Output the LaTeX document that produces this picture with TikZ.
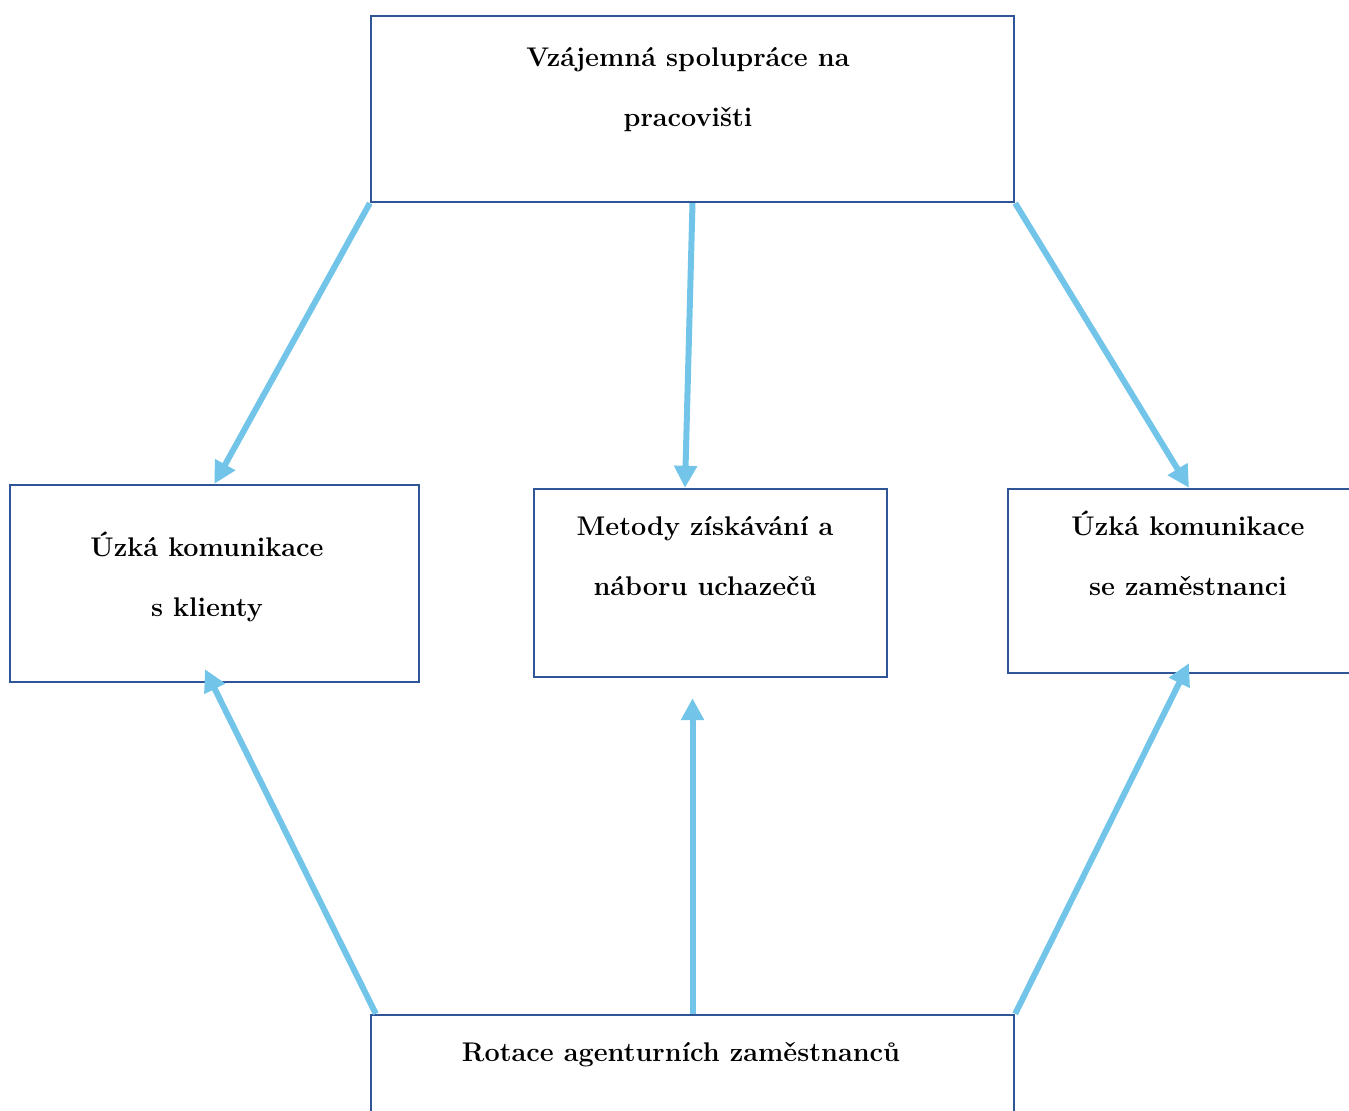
\documentclass[tikz,border=0pt]{standalone}
\usetikzlibrary{arrows.meta, positioning}
\definecolor{boxblue}{RGB}{47,85,151}
\definecolor{arrowblue}{RGB}{114,196,233}

\begin{document}
\begin{tikzpicture}[x=0.5pt, y=0.5pt,
    box/.style={rectangle, draw=boxblue, line width=1.2pt, inner sep=0pt},
    lbl/.style={align=center, font=\fontsize{13.5}{30}\selectfont\bfseries},
    arrow/.style={draw=arrowblue, line width=3pt, -{Triangle[length=11pt, width=11pt]}}]
    \useasboundingbox (0,0) rectangle (1349,1111);
    \clip (0,0) rectangle (1349,1111);
    % boxes
    \node [box, minimum width=321.5pt, minimum height=93pt] (top) at (692.5,1002) {};
    \node [box, minimum width=204.5pt, minimum height=98.5pt] (left) at (214.5,527.5) {};
    \node [box, minimum width=176.5pt, minimum height=94pt] (mid) at (710.5,528) {};
    \node [box, minimum width=181pt, minimum height=92pt] (right) at (1189,530) {};
    \node [box, minimum width=321.5pt, minimum height=92.5pt] (bot) at (692.5,3.5) {};
    % texts
    \node [lbl] (toplbl) at (688,1021) {Vzájemná spolupráce na\\pracovišti};
    \node [lbl] (leftlbl) at (207,534) {Úzká komunikace\\s klienty};
    \node [lbl] (midlbl) at (705,555) {Metody získávání a\\náboru uchazečů};
    \node [lbl] (rightlbl) at (1188,558) {Úzká komunikace\\se zaměstnanci};
    \node [lbl] (botlbl) at (681,56) {Rotace agenturních zaměstnanců};
    % arrows
    \draw [arrow] (top.south west) -- (left.north);
    \draw [arrow] (top.south) -- ([xshift=-12.75pt]mid.north);
    \draw [arrow] (top.south east) -- (right.north);
    \draw [arrow] ([xshift=3pt]bot.north west) -- ([xshift=-4.75pt, yshift=7pt]left.south);
    \draw [arrow] (bot.north) -- ([xshift=-9pt, yshift=-10pt]mid.south);
    \draw [arrow] (bot.north east) -- ([yshift=5.5pt]right.south);
\end{tikzpicture}
\end{document}
